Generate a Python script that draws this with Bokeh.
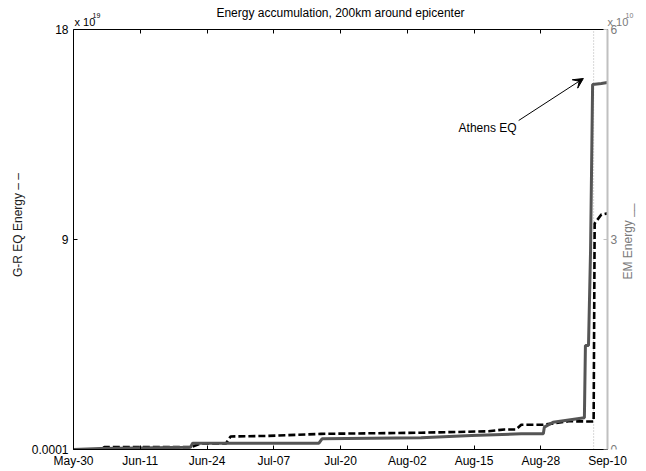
import math
from bokeh.plotting import figure
from bokeh.models import Range1d, LinearAxis, FixedTicker, Arrow, VeeHead, Label
from bokeh.embed import file_html
from bokeh.resources import INLINE

FONT = "Liberation Sans"

# x axis: days since May-30, ticks every 13 days
tick_days = [0, 13, 26, 39, 52, 65, 78, 91, 104]
tick_labels = ["May-30", "Jun-11", "Jun-24", "Jul-07", "Jul-20",
               "Aug-02", "Aug-15", "Aug-28", "Sep-10"]

# EM energy (x 1e10), right axis
em_days = [0.0, 5.3, 22.8, 23.2, 47.8, 48.4, 67.7, 77.5, 87.2, 91.5, 91.7,
           93.4, 99.5, 99.7, 100.3, 100.7, 101.1, 102.8, 104.0]
em_energy = [0.0, 0.014, 0.033, 0.09, 0.09, 0.153, 0.167, 0.20, 0.224, 0.224,
             0.319, 0.39, 0.453, 1.486, 1.486, 2.84, 5.214, 5.23, 5.243]

# G-R earthquake energy (x 1e19), left axis
gr_days = [0.0, 5.3, 6.0, 22.8, 24.8, 29.7, 30.6, 37.5, 48.2, 67.7, 80.8,
           83.9, 86.2, 87.2, 91.5, 96.4, 101.3, 101.5, 102.8, 104.0]
gr_energy = [0.0, 0.0, 0.10, 0.10, 0.26, 0.26, 0.56, 0.58, 0.67, 0.72, 0.78,
             0.86, 0.86, 1.06, 1.06, 1.21, 1.20, 9.69, 10.07, 10.12]

athens_day = 101.3

left_ticks = [0.0001, 9, 18]
right_ticks = [0, 3, 6]
x_end, left_end, right_end = 104, 18, 6

# page geometry (pixels)
W, H = 646, 471
PLOT_L, PLOT_R, PLOT_T, PLOT_B = 73, 607, 29, 449

# the frame covers the whole area right of the left axis and above the
# bottom axis; the axes are bounded to the data box inside it
px_per_day = (PLOT_R - PLOT_L) / x_end
px_per_left = (PLOT_B - PLOT_T) / left_end
px_per_right = (PLOT_B - PLOT_T) / right_end
x_max = x_end + (W - PLOT_R) / px_per_day
y_max = left_end + PLOT_T / px_per_left
y2_max = right_end + PLOT_T / px_per_right


def xd(px):
    return (px - PLOT_L) / px_per_day


def yd(py):
    return (PLOT_B - py) / px_per_left


p = figure(width=W, height=H, x_range=Range1d(0, x_max),
           y_range=Range1d(0.0001, y_max), output_backend="svg",
           toolbar_location=None, title=None,
           min_border_left=PLOT_L, min_border_right=0,
           min_border_top=0, min_border_bottom=H - PLOT_B)
p.extra_y_ranges = {"em": Range1d(0, y2_max)}
p.xgrid.visible = False
p.ygrid.visible = False
p.outline_line_color = None
p.background_fill_color = "white"
p.border_fill_color = "white"


def style_axis(ax, color="black", label_color="black"):
    ax.major_tick_in = 4
    ax.major_tick_out = 0
    ax.minor_tick_in = 0
    ax.minor_tick_out = 0
    ax.axis_line_color = color
    ax.major_tick_line_color = color
    ax.major_label_text_font = FONT
    ax.major_label_text_font_size = "12px"
    ax.major_label_text_color = label_color
    ax.axis_label_text_font = FONT
    ax.axis_label_text_font_size = "12px"
    ax.axis_label_text_font_style = "normal"
    ax.axis_label_text_color = label_color


xa = p.xaxis[0]
xa.ticker = FixedTicker(ticks=tick_days)
xa.major_label_overrides = {d: l for d, l in zip(tick_days, tick_labels)}
xa.bounds = (0, x_end)
style_axis(xa)
xa.major_label_standoff = 4

ya = p.yaxis[0]
ya.ticker = FixedTicker(ticks=left_ticks)
ya.major_label_overrides = {0.0001: "0.0001", 9: "9", 18: "18"}
ya.bounds = (0.0001, left_end)
style_axis(ya)
ya.major_label_standoff = 5
ya.axis_label = "G-R EQ Energy \u2013 \u2013"
ya.axis_label_standoff = 4
ya.axis_label_text_color = "#222222"

# top edge of the box, ticks pointing down
top = LinearAxis(ticker=FixedTicker(ticks=tick_days), fixed_location=left_end,
                 bounds=(0, x_end))
style_axis(top)
top.major_label_overrides = {d: "" for d in tick_days}
top.major_label_text_font_size = "0px"
top.major_label_standoff = 0
p.add_layout(top, "above")

# EM energy axis on the right edge of the box
ra = LinearAxis(y_range_name="em", ticker=FixedTicker(ticks=right_ticks),
                fixed_location=x_end, bounds=(0, right_end))
style_axis(ra, color="#c0c0c0", label_color="#7a7a7a")
ra.axis_line_width = 2
ra.major_label_standoff = 3
p.add_layout(ra, "right")

# Athens earthquake marker
p.segment(x0=[athens_day], y0=[0], x1=[athens_day], y1=[left_end],
          line_color="#b0b0b0", line_dash="1 2", line_width=1)

p.line(gr_days, gr_energy, line_color="black", line_width=2.6, line_dash="7 3")
p.line(em_days, em_energy, line_color="#555555", line_width=3, y_range_name="em")

p.add_layout(Arrow(end=VeeHead(size=10, fill_color="black", line_color="black"),
                   x_start=86.7, y_start=14.1, x_end=99.3, y_end=15.9,
                   line_color="black", line_width=1))
p.add_layout(Label(x=86.3, y=13.76, text="Athens EQ", text_align="right",
                   text_baseline="middle", text_font=FONT,
                   text_font_size="12px", text_color="black"))

# title
p.add_layout(Label(x=x_end / 2, y=yd(12), text="Energy accumulation, 200km around epicenter",
                   text_align="center", text_baseline="middle", text_font=FONT,
                   text_font_size="12px", text_color="black"))

# axis multipliers
for px0, colr, exp in [(PLOT_L + 1, "black", "19"), (PLOT_R, "#7a7a7a", "10")]:
    p.add_layout(Label(x=xd(px0), y=yd(21), text="x 10", text_align="left",
                       text_baseline="middle", text_font=FONT,
                       text_font_size="11px", text_color=colr))
    p.add_layout(Label(x=xd(px0 + 18), y=yd(15), text=exp, text_align="left",
                       text_baseline="middle", text_font=FONT,
                       text_font_size="7px", text_color=colr))

# right axis title, reading upwards
p.add_layout(Label(x=xd(627), y=yd(241), text="EM Energy __", angle=math.pi / 2,
                   text_align="center", text_baseline="middle", text_font=FONT,
                   text_font_size="12px", text_color="#7a7a7a"))

open("out.html", "w").write(file_html(p, INLINE))
